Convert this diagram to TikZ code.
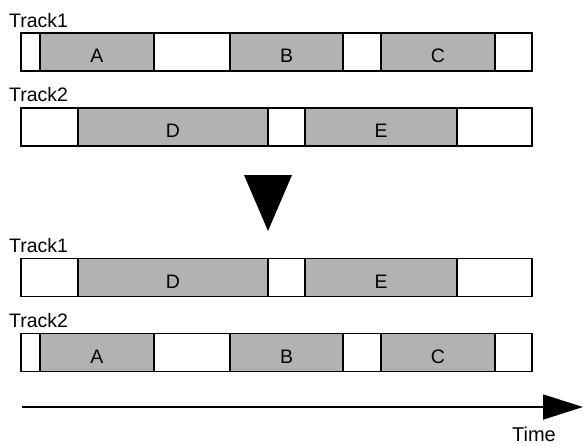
\documentclass[tikz,border=0pt]{standalone}
\usepackage{fontspec}
\setmainfont{Liberation Sans}
\usetikzlibrary{positioning,arrows.meta}

\begin{document}
\begin{tikzpicture}[x=1pt, y=-1pt,
                seg/.style={draw, line width=1.5pt, minimum height=38pt,
                            inner sep=0pt, outer sep=0pt,
                            text height=21pt, text depth=0pt,
                            font=\fontsize{19.5}{22}\selectfont},
                busy/.style={seg, fill=black!30},
                trk/.style={anchor=base west, inner sep=0pt,
                            font=\fontsize{19.5}{22}\selectfont}]
  \useasboundingbox (0,0) rectangle (583,445);

  % before
  \node[trk] (lab1) at (9,27) {Track1};
  \node[seg, minimum width=19pt, anchor=west] (t1g1) at (21,52) {};
  \node[busy, minimum width=114pt, right=0pt of t1g1] (t1A)  {A};
  \node[seg,  minimum width=76pt,  right=0pt of t1A]  (t1g2) {};
  \node[busy, minimum width=113pt, right=0pt of t1g2] (t1B)  {B};
  \node[seg,  minimum width=38pt,  right=0pt of t1B]  (t1g3) {};
  \node[busy, minimum width=114pt, right=0pt of t1g3] (t1C)  {C};
  \node[seg,  minimum width=37pt,  right=0pt of t1C]  (t1g4) {};

  \node[trk] (lab2) at (9,101.5) {Track2};
  \node[seg, minimum width=57pt, anchor=west] (t2g1) at (21,127) {};
  \node[busy, minimum width=190pt, right=0pt of t2g1] (t2D)  {D};
  \node[seg,  minimum width=37pt,  right=0pt of t2D]  (t2g2) {};
  \node[busy, minimum width=152pt, right=0pt of t2g2] (t2E)  {E};
  \node[seg,  minimum width=75pt,  right=0pt of t2E]  (t2g3) {};

  % swap
  \fill (244,175) -- (292,175) -- (268,231) -- cycle;

  % after
  \node[trk] (lab3) at (9,252.5) {Track1};
  \node[seg, minimum width=57pt, anchor=west] (b1g1) at (21,277.5) {};
  \node[busy, minimum width=190pt, right=0pt of b1g1] (b1D)  {D};
  \node[seg,  minimum width=37pt,  right=0pt of b1D]  (b1g2) {};
  \node[busy, minimum width=152pt, right=0pt of b1g2] (b1E)  {E};
  \node[seg,  minimum width=75pt,  right=0pt of b1E]  (b1g3) {};

  \node[trk] (lab4) at (9,327.5) {Track2};
  \node[seg, minimum width=19pt, anchor=west] (b2g1) at (21,352.5) {};
  \node[busy, minimum width=114pt, right=0pt of b2g1] (b2A)  {A};
  \node[seg,  minimum width=76pt,  right=0pt of b2A]  (b2g2) {};
  \node[busy, minimum width=113pt, right=0pt of b2g2] (b2B)  {B};
  \node[seg,  minimum width=38pt,  right=0pt of b2B]  (b2g3) {};
  \node[busy, minimum width=114pt, right=0pt of b2g3] (b2C)  {C};
  \node[seg,  minimum width=37pt,  right=0pt of b2C]  (b2g4) {};

  % time axis
  \coordinate (t0) at (22,407);
  \coordinate (t1) at (583,407);
  \draw[line width=1.7pt, -{Triangle[length=40pt,width=25pt]}] (t0) -- (t1);
  \node[trk, anchor=base east, font=\fontsize{20}{22}\selectfont] (time)
      at (556,441) {Time};
\end{tikzpicture}
\end{document}
